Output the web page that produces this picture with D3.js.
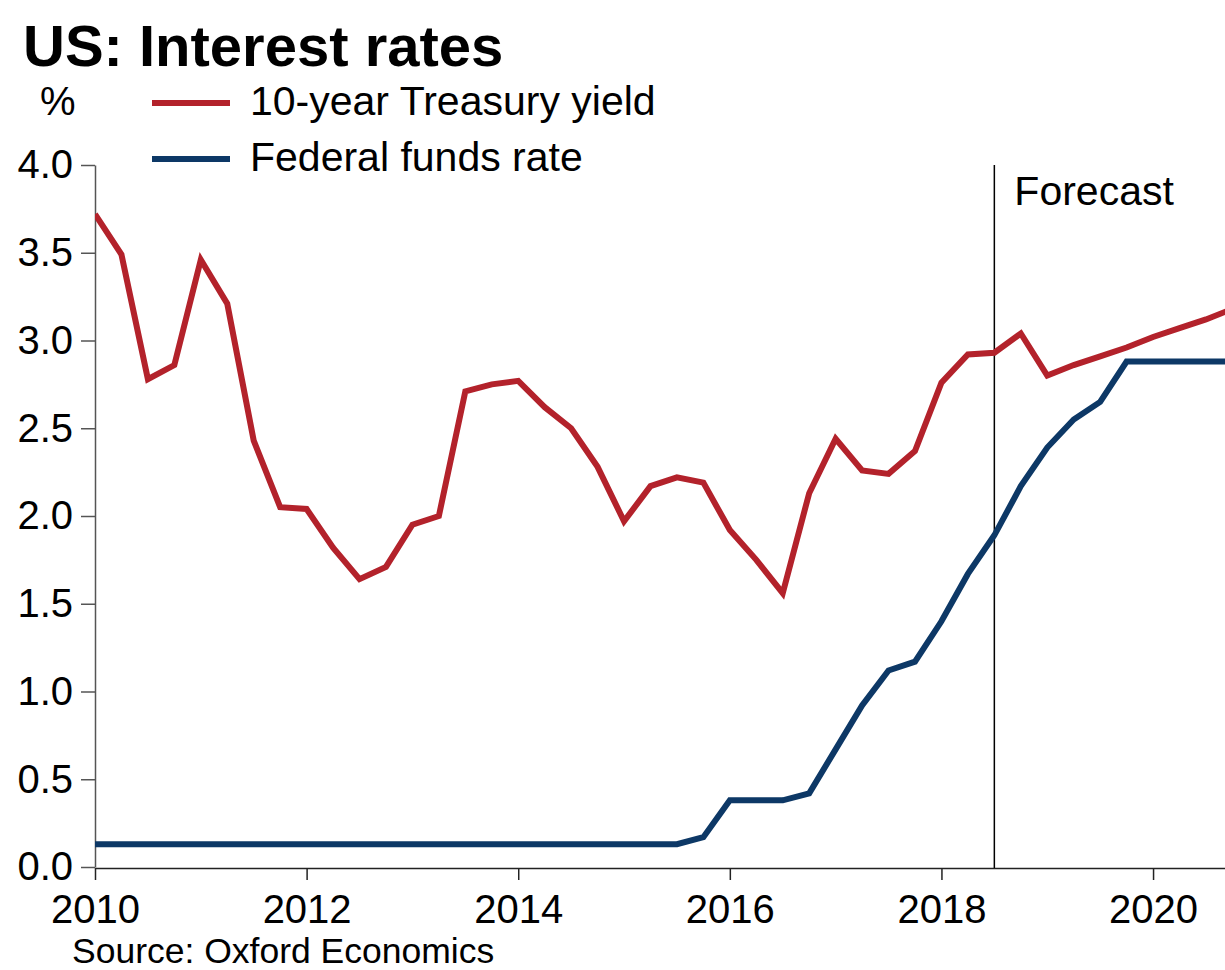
<!DOCTYPE html>
<html>
<head>
<meta charset="utf-8">
<script src="https://cdn.jsdelivr.net/npm/d3@7"></script>
<style>
  html, body { margin: 0; padding: 0; background: #fff; }
  svg { display: block; font-family: "Liberation Sans", Arial, sans-serif; }
</style>
</head>
<body>
<svg id="chart" width="1225" height="970"></svg>
<script>
// Quarterly periods (decimal year)
const quarters = [
  2010.0, 2010.25, 2010.5, 2010.75,
  2011.0, 2011.25, 2011.5, 2011.75,
  2012.0, 2012.25, 2012.5, 2012.75,
  2013.0, 2013.25, 2013.5, 2013.75,
  2014.0, 2014.25, 2014.5, 2014.75,
  2015.0, 2015.25, 2015.5, 2015.75,
  2016.0, 2016.25, 2016.5, 2016.75,
  2017.0, 2017.25, 2017.5, 2017.75,
  2018.0, 2018.25, 2018.5, 2018.75,
  2019.0, 2019.25, 2019.5, 2019.75,
  2020.0, 2020.25, 2020.5, 2020.75
];
const treasury10y = [
  3.72, 3.49, 2.78, 2.86,
  3.46, 3.21, 2.43, 2.05,
  2.04, 1.82, 1.64, 1.71,
  1.95, 2.00, 2.71, 2.75,
  2.77, 2.62, 2.50, 2.28,
  1.97, 2.17, 2.22, 2.19,
  1.92, 1.75, 1.56, 2.13,
  2.44, 2.26, 2.24, 2.37,
  2.76, 2.92, 2.93, 3.04,
  2.80, 2.86, 2.91, 2.96,
  3.02, 3.07, 3.12, 3.18
];
const fedFunds = [
  0.13, 0.13, 0.13, 0.13,
  0.13, 0.13, 0.13, 0.13,
  0.13, 0.13, 0.13, 0.13,
  0.13, 0.13, 0.13, 0.13,
  0.13, 0.13, 0.13, 0.13,
  0.13, 0.13, 0.13, 0.17,
  0.38, 0.38, 0.38, 0.42,
  0.67, 0.92, 1.12, 1.17,
  1.40, 1.67, 1.89, 2.17,
  2.39, 2.55, 2.65, 2.88,
  2.88, 2.88, 2.88, 2.88
];
const yTicks = [0, 0.5, 1.0, 1.5, 2.0, 2.5, 3.0, 3.5, 4.0];
const xTicks = [2010, 2012, 2014, 2016, 2018, 2020];
const forecastStart = 2018.5;
const seriesNames = ["10-year Treasury yield", "Federal funds rate"];
const seriesColors = ["#B3222B", "#0D3866"];

const svg = d3.select("#chart");
const x = d3.scaleLinear().domain([2010, 2020.68]).range([95, 1225]);
const y = d3.scaleLinear().domain([0, 4]).range([867, 165]);

// Title
svg.append("text").attr("x", 23).attr("y", 66)
  .attr("font-size", 58).attr("font-weight", "bold").attr("fill", "#000")
  .text("US: Interest rates");

// % unit
svg.append("text").attr("x", 40).attr("y", 115)
  .attr("font-size", 40).attr("fill", "#000").text("%");

// Legend
const legendY = [103, 159];
seriesNames.forEach((name, i) => {
  svg.append("line").attr("x1", 152).attr("x2", 230)
    .attr("y1", legendY[i]).attr("y2", legendY[i])
    .attr("stroke", seriesColors[i]).attr("stroke-width", 6);
  svg.append("text").attr("x", 250).attr("y", legendY[i] + 12)
    .attr("font-size", 41).attr("fill", "#000").text(name);
});

// Y axis
const yAxis = svg.append("g").attr("transform", "translate(95,0)")
  .call(d3.axisLeft(y).tickValues(yTicks).tickFormat(d3.format(".1f"))
    .tickSize(14).tickSizeOuter(0).tickPadding(8));
yAxis.select(".domain").attr("stroke", "#555").attr("stroke-width", 1.5);
yAxis.selectAll(".tick line").attr("stroke", "#555").attr("stroke-width", 1.5);
yAxis.selectAll(".tick text").attr("font-size", 40).attr("fill", "#000")
  .attr("font-family", "Liberation Sans, Arial, sans-serif").attr("dy", "0.32em");

// X axis
const xAxis = svg.append("g").attr("transform", "translate(0,868)")
  .call(d3.axisBottom(x).tickValues(xTicks).tickFormat(d3.format("d"))
    .tickSize(12).tickSizeOuter(0).tickPadding(15));
xAxis.select(".domain").attr("stroke", "#222").attr("stroke-width", 1.5);
xAxis.selectAll(".tick line").attr("stroke", "#222").attr("stroke-width", 1.5);
xAxis.selectAll(".tick text").attr("font-size", 40).attr("fill", "#000")
  .attr("font-family", "Liberation Sans, Arial, sans-serif");

// Forecast divider
svg.append("line").attr("x1", x(forecastStart)).attr("x2", x(forecastStart))
  .attr("y1", y(4)).attr("y2", 868)
  .attr("stroke", "#000").attr("stroke-width", 1.5);
svg.append("text").attr("x", x(forecastStart) + 20).attr("y", 205)
  .attr("font-size", 41).attr("fill", "#000").text("Forecast");

// Lines
svg.append("clipPath").attr("id", "plot-clip")
  .append("rect").attr("x", 95).attr("y", 100).attr("width", 1130).attr("height", 800);
const line = d3.line().x(d => x(d[0])).y(d => y(d[1])).curve(d3.curveLinear);
[fedFunds, treasury10y].forEach((vals, k) => {
  const idx = k === 0 ? 1 : 0;
  svg.append("path")
    .datum(quarters.map((q, i) => [q, vals[i]]))
    .attr("clip-path", "url(#plot-clip)")
    .attr("fill", "none").attr("stroke", seriesColors[idx])
    .attr("stroke-width", 6).attr("stroke-linejoin", "miter")
    .attr("d", line);
});

// Source
svg.append("text").attr("x", 72).attr("y", 963)
  .attr("font-size", 35.5).attr("fill", "#000").text("Source: Oxford Economics");
</script>
</body>
</html>
